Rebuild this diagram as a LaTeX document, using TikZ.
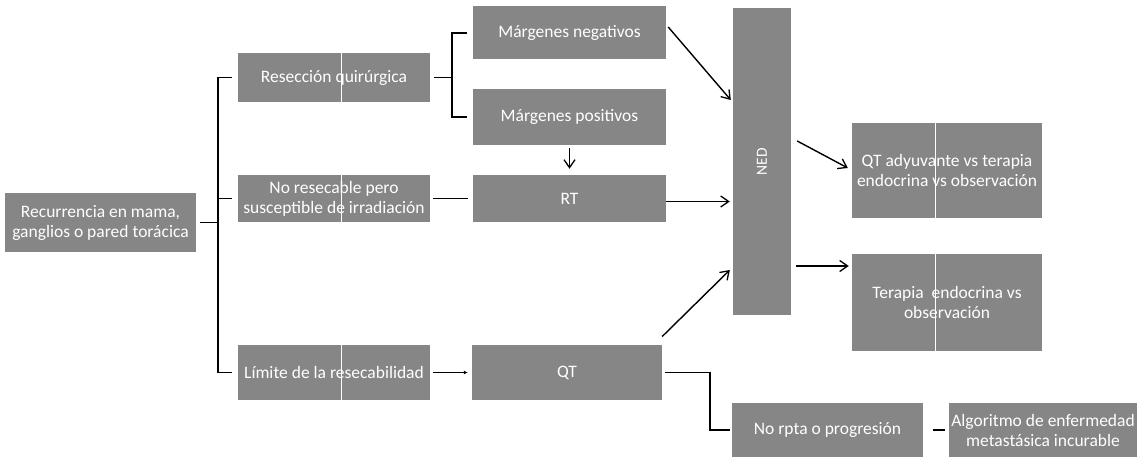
\documentclass[tikz,border=0pt]{standalone}
\usepackage{fontspec}
\setmainfont{Carlito}
\usetikzlibrary{arrows.meta}
\definecolor{boxgray}{RGB}{134,134,134}
\tikzset{
  box/.style={fill=boxgray, draw=none, text=white, align=center, inner sep=0pt,
    font=\fontsize{17.5}{20}\selectfont},
  link/.style={draw=black, line width=1.6pt},
  arr/.style={draw=black, line width=1.4pt, -{Straight Barb[length=8pt,width=11pt,line width=1.3pt]}},
  seam/.style={draw=white, line width=0.9pt},
}
\begin{document}
\begin{tikzpicture}[x=1pt,y=-1pt]
\useasboundingbox (0,0) rectangle (1139,462);
% boxes
\node[box, minimum width=191pt, minimum height=59pt] (rec) at (100.5,222.5) {Recurrencia en mama,\\ ganglios o pared torácica};
\node[box, minimum width=192pt, minimum height=49pt] (res) at (334,77.5) {Resección quirúrgica};
\node[box, minimum width=192pt, minimum height=47pt] (nores) at (334,198.5) {No resecable pero\\ susceptible de irradiación};
\node[box, minimum width=192pt, minimum height=55pt] (lim) at (334,372.5) {Límite de la resecabilidad};
\node[box, minimum width=193pt, minimum height=53pt] (mneg) at (569.5,33) {Márgenes negativos};
\node[box, minimum width=193pt, minimum height=56pt] (mpos) at (569.5,117) {Márgenes positivos};
\node[box, minimum width=193pt, minimum height=47pt] (rt) at (569.5,198.5) {RT};
\node[box, minimum width=190pt, minimum height=55pt] (qt) at (567,372.5) {QT};
\node[box, minimum width=58pt, minimum height=307pt] (ned) at (762,161.5) {};
\node[text=white, font=\fontsize{15.5}{17}\selectfont, rotate=90] (nedt) at (ned.center) {NED};
\node[box, minimum width=190pt, minimum height=95pt] (qta) at (947,170.5) {QT adyuvante vs terapia\\ endocrina vs observación};
\node[box, minimum width=190pt, minimum height=97pt] (ter) at (947,302.5) {Terapia \ endocrina vs\\ observación};
\node[box, minimum width=191pt, minimum height=54pt] (norpta) at (827.5,430) {No rpta o progresión};
\node[box, minimum width=188pt, minimum height=54pt] (alg) at (1043,430) {Algoritmo de enfermedad\\ metastásica incurable};
% seams
\draw[seam] (res.north) ++(7,0) -- ++(0,49);
\draw[seam] (nores.north) ++(7,0) -- ++(0,47);
\draw[seam] (lim.north) ++(7,0) -- ++(0,55);
\draw[seam] (qta.north) ++(-12,0) -- ++(0,95);
\draw[seam] (ter.north) ++(-12,0) -- ++(0,97);
% brackets
\coordinate (b1) at (218,0);
\coordinate (b2) at (452,0);
\draw[link] ([xshift=-6pt]res.west) -| (b1 |- lim.west) -- ([xshift=-6pt]lim.west);
\draw[link] ([xshift=-6pt]nores.west) -- (b1 |- nores.west);
\draw[link] ([xshift=4pt]rec.east) -- (b1 |- rec.east);
\draw[link] ([xshift=4pt]res.east) -- (b2 |- res.east);
\draw[link] ([xshift=-6pt]mneg.west) -| (b2 |- mpos.west) -- ([xshift=-6pt]mpos.west);
% straight links
\draw[link, line width=1.3pt] ([xshift=3pt]nores.east) -- ([xshift=-5pt]rt.west);
\draw[link, line width=1.3pt, -{Latex[length=4pt,width=4pt]}] ([xshift=3pt]lim.east) -- ([xshift=-4pt]qt.west);
\draw[arr] ([yshift=-3pt]mpos.south) -- ([yshift=6pt]rt.north);
\draw[arr] ([xshift=2pt,yshift=6pt]mneg.east) -- ([xshift=-2pt]ned.west |- 0,100);
\draw[arr] ([yshift=-3pt]rt.east) -- ([xshift=-3pt]ned.west |- 0,201.5);
\draw[arr] ([yshift=36pt]qt.east) -- ([xshift=-3pt]ned.west |- 0,270);
\draw[arr] ([xshift=6pt]ned.east |- 0,141) -- ([xshift=-4pt]qta.west |- 0,168);
\draw[arr] ([xshift=5pt]ned.east |- 0,266) -- ([xshift=-3pt]ter.west |- 0,266);
\coordinate (elb) at (710,0);
\draw[link, line width=1.5pt] ([xshift=3pt]qt.east) -- (elb |- qt.east) |- ([xshift=-2pt]norpta.west);
\draw[link, line width=1.4pt] ([xshift=10pt]norpta.east) -- ([xshift=-4pt]alg.west);
\end{tikzpicture}
\end{document}
